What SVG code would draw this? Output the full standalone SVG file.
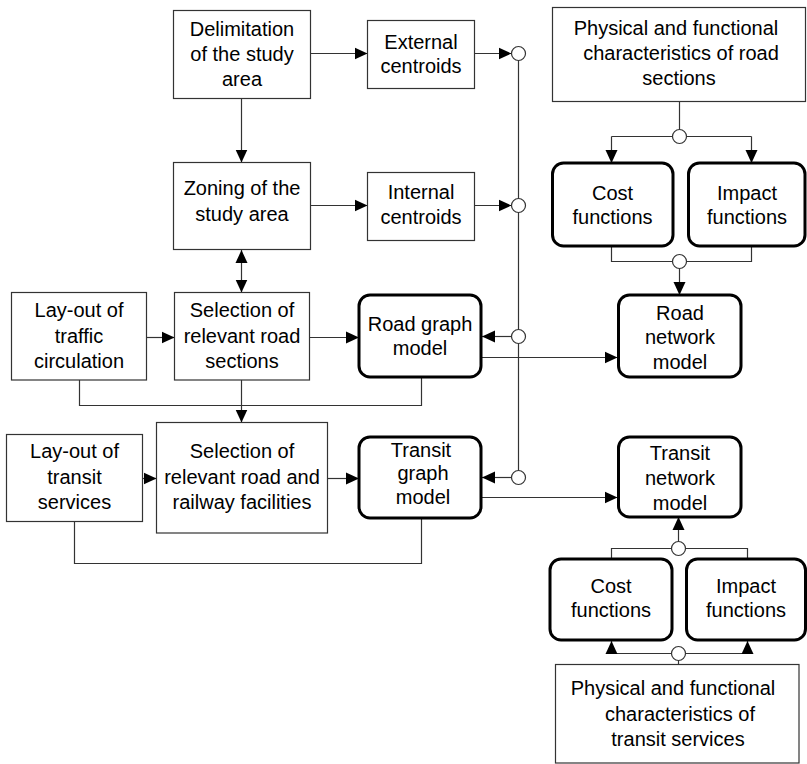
<svg xmlns="http://www.w3.org/2000/svg" width="807" height="764" viewBox="0 0 807 764">
<style>
.b{fill:#fff;stroke:#333;stroke-width:1.2}
.t{fill:#fff;stroke:#000;stroke-width:3}
text{font-family:"Liberation Sans",Arial,sans-serif;font-size:20px;fill:#000;text-anchor:middle}
.c{fill:none;stroke:#333;stroke-width:1.2}
.a{marker-end:url(#ah)}
.j{fill:#fff;stroke:#333;stroke-width:1.2}
</style>
<defs>
<marker id="ah" markerUnits="userSpaceOnUse" markerWidth="13" markerHeight="13" refX="13" refY="6.5" orient="auto-start-reverse" viewBox="0 0 13 13">
<path d="M0,0.5 L13,6.5 L0,12.5 z" fill="#000"/>
</marker>
</defs>
<rect width="807" height="764" fill="#fff"/>
<g id="connectors">
<line class="c a" x1="310.5" y1="53.5" x2="367.5" y2="53.5"/>
<line class="c a" x1="474.5" y1="53.5" x2="511.5" y2="53.5"/>
<line class="c a" x1="241.5" y1="98.5" x2="241.5" y2="162.5"/>
<line class="c a" x1="310.5" y1="205.5" x2="367.5" y2="205.5"/>
<line class="c a" x1="474.5" y1="205.5" x2="511.5" y2="205.5"/>
<line class="c a" x1="241.5" y1="250" x2="241.5" y2="292.5" style="marker-start:url(#ah)"/>
<line class="c a" x1="146.5" y1="337.5" x2="174.5" y2="337.5"/>
<line class="c a" x1="309.5" y1="337.5" x2="359" y2="337.5"/>
<line class="c a" x1="511.5" y1="336.5" x2="482" y2="336.5"/>
<line class="c a" x1="482" y1="357.5" x2="617.5" y2="357.5"/>
<polyline class="c" points="79.5,380 79.5,405.5 421.5,405.5 421.5,378"/>
<line class="c a" x1="241.5" y1="380" x2="241.5" y2="422.5"/>
<line class="c a" x1="142.5" y1="478.5" x2="156.5" y2="478.5"/>
<line class="c a" x1="327.5" y1="478.5" x2="359" y2="478.5"/>
<line class="c a" x1="511.5" y1="477.5" x2="482" y2="477.5"/>
<line class="c a" x1="482" y1="497.5" x2="617.5" y2="497.5"/>
<polyline class="c" points="74.5,521.5 74.5,563.5 421.5,563.5 421.5,519"/>
<line class="c" x1="518.5" y1="53.5" x2="518.5" y2="477.5"/>
<line class="c" x1="679.5" y1="101.5" x2="679.5" y2="136.5"/>
<line class="c a" x1="611.5" y1="136.5" x2="611.5" y2="163"/>
<line class="c a" x1="751.5" y1="136.5" x2="751.5" y2="163"/>
<line class="c" x1="611.5" y1="136.5" x2="751.5" y2="136.5"/>
<polyline class="c" points="611.5,246 611.5,261.5 751.5,261.5 751.5,246"/>
<line class="c a" x1="679.5" y1="261.5" x2="679.5" y2="295"/>
<polyline class="c" points="611.5,559 611.5,548.5 747.5,548.5 747.5,559"/>
<line class="c a" x1="678.5" y1="548.5" x2="678.5" y2="517"/>
<line class="c" x1="678.5" y1="664.5" x2="678.5" y2="653.5"/>
<line class="c" x1="611.5" y1="653.5" x2="747.5" y2="653.5"/>
<line class="c a" x1="611.5" y1="653.5" x2="611.5" y2="641"/>
<line class="c a" x1="747.5" y1="653.5" x2="747.5" y2="641"/>
<circle class="j" cx="518.5" cy="53.5" r="7"/>
<circle class="j" cx="518.5" cy="205.5" r="7"/>
<circle class="j" cx="518.5" cy="336.5" r="7"/>
<circle class="j" cx="518.5" cy="477.5" r="7"/>
<circle class="j" cx="679.5" cy="136.5" r="7"/>
<circle class="j" cx="679.5" cy="261.5" r="7"/>
<circle class="j" cx="678.5" cy="548.5" r="7"/>
<circle class="j" cx="678.5" cy="653.5" r="7"/>
</g>
<g id="delimitation">
<rect class="b" x="173.5" y="10.5" width="137" height="88"/>
<text x="242" y="36">Delimitation</text><text x="242" y="61">of the study</text><text x="242" y="86">area</text>
</g>
<g id="external">
<rect class="b" x="367.5" y="20.5" width="107" height="68"/>
<text x="421" y="49">External</text><text x="421" y="73">centroids</text>
</g>
<g id="zoning">
<rect class="b" x="173.5" y="162.5" width="137" height="87"/>
<text x="242" y="195">Zoning of the</text><text x="242" y="221">study area</text>
</g>
<g id="internal">
<rect class="b" x="367.5" y="172.5" width="107" height="68"/>
<text x="421" y="199">Internal</text><text x="421" y="224">centroids</text>
</g>
<g id="layout-traffic">
<rect class="b" x="11.5" y="292.5" width="135" height="87.5"/>
<text x="79" y="317">Lay-out of</text><text x="79" y="343">traffic</text><text x="79" y="368">circulation</text>
</g>
<g id="selection-road">
<rect class="b" x="174.5" y="292.5" width="135" height="87.5"/>
<text x="242" y="317">Selection of</text><text x="242" y="343">relevant road</text><text x="242" y="368">sections</text>
</g>
<g id="road-graph">
<rect class="t" x="359" y="295" width="122" height="82" rx="11"/>
<text x="420" y="331">Road graph</text><text x="420" y="355">model</text>
</g>
<g id="layout-transit">
<rect class="b" x="6.5" y="434.5" width="136" height="87"/>
<text x="74.5" y="458">Lay-out of</text><text x="74.5" y="484">transit</text><text x="74.5" y="509">services</text>
</g>
<g id="selection-railway">
<rect class="b" x="156.5" y="422.5" width="171" height="110.5"/>
<text x="242" y="458">Selection of</text><text x="242" y="484">relevant road and</text><text x="242" y="509">railway facilities</text>
</g>
<g id="transit-graph">
<rect class="t" x="359" y="437" width="122" height="81" rx="11"/>
<text x="421" y="457">Transit</text><text x="423" y="480">graph</text><text x="423" y="504">model</text>
</g>
<g id="physical-road">
<rect class="b" x="552.5" y="7.5" width="253" height="94"/>
<text x="676" y="35">Physical and functional</text><text x="681" y="60">characteristics of road</text><text x="679" y="85">sections</text>
</g>
<g id="cost-road">
<rect class="t" x="552.5" y="163" width="120.5" height="83" rx="11"/>
<text x="612.5" y="200">Cost</text><text x="612.5" y="224">functions</text>
</g>
<g id="impact-road">
<rect class="t" x="688.5" y="163" width="116.5" height="83" rx="11"/>
<text x="747" y="200">Impact</text><text x="747" y="224">functions</text>
</g>
<g id="road-network">
<rect class="t" x="618.5" y="295" width="122.5" height="82" rx="11"/>
<text x="680" y="320">Road</text><text x="680" y="344">network</text><text x="680" y="369">model</text>
</g>
<g id="transit-network">
<rect class="t" x="618.5" y="437" width="122.5" height="80" rx="11"/>
<text x="680" y="460">Transit</text><text x="680" y="485">network</text><text x="680" y="510">model</text>
</g>
<g id="cost-transit">
<rect class="t" x="550" y="559" width="122" height="81" rx="11"/>
<text x="611" y="593">Cost</text><text x="611" y="617">functions</text>
</g>
<g id="impact-transit">
<rect class="t" x="686.5" y="559" width="119" height="81" rx="11"/>
<text x="746" y="593">Impact</text><text x="746" y="617">functions</text>
</g>
<g id="physical-transit">
<rect class="b" x="555.5" y="664.5" width="243.5" height="98.5"/>
<text x="673" y="695">Physical and functional</text><text x="680" y="721">characteristics of</text><text x="678" y="746">transit services</text>
</g>
</svg>
